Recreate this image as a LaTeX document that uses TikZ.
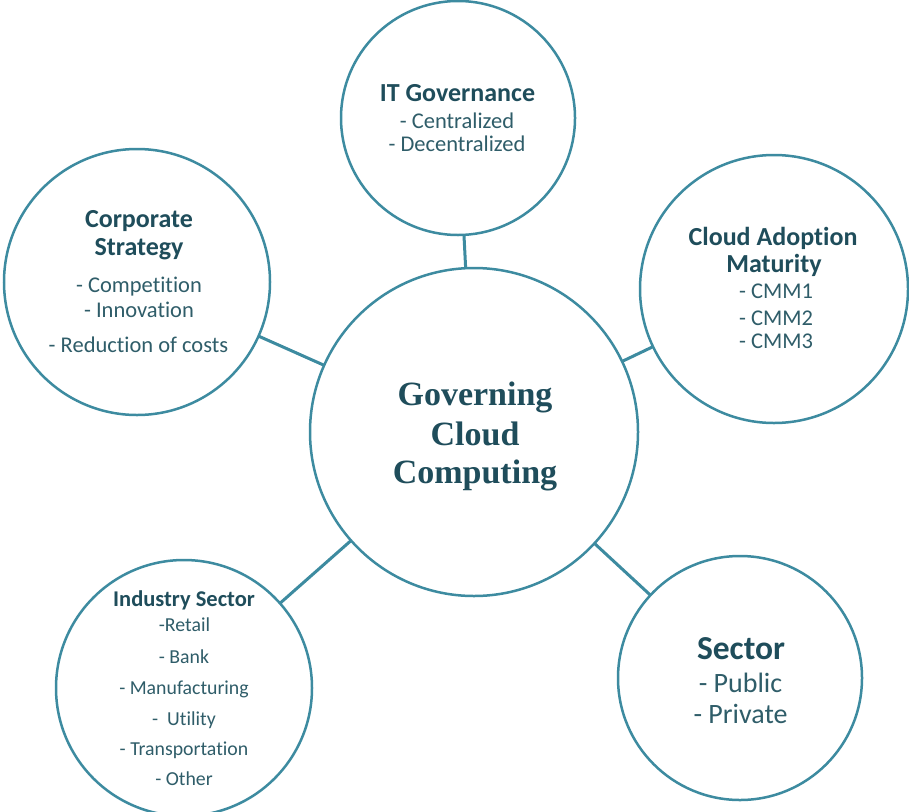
\documentclass[tikz,border=0pt]{standalone}
\usepackage{fontspec}
\setmainfont[Ligatures=NoCommon]{Carlito}
\newfontfamily\timesfont{Liberation Serif}
\definecolor{ring}{HTML}{3D8BA0}
\definecolor{headc}{HTML}{1F4D5B}
\definecolor{bodyc}{HTML}{2F5D69}
\begin{document}
\begin{tikzpicture}[x=1pt,y=-1pt,
  bubble/.style={circle,draw=ring,line width=2.5pt,fill=white,inner sep=0pt,outer sep=0pt,minimum size=#1},
  link/.style={draw=ring,line width=3pt},
  hd/.style={anchor=base,inner sep=0pt,text=headc,font=\bfseries\fontsize{26}{30}\selectfont},
  bd/.style={anchor=base,inner sep=0pt,text=bodyc,font=\fontsize{22.5}{26}\selectfont},
  hds/.style={anchor=base,inner sep=0pt,text=headc,font=\bfseries\fontsize{22.5}{26}\selectfont},
  bds/.style={anchor=base,inner sep=0pt,text=bodyc,font=\fontsize{19.8}{24}\selectfont},
  hdl/.style={anchor=base,inner sep=0pt,text=headc,font=\bfseries\fontsize{33.5}{38}\selectfont},
  bdl/.style={anchor=base,inner sep=0pt,text=bodyc,font=\fontsize{28}{32}\selectfont},
  ctr/.style={anchor=base,inner sep=0pt,text=headc,font=\timesfont\bfseries\fontsize{34}{38}\selectfont}]
\useasboundingbox (0,0) rectangle (909,811);
\fill[white] (0,0) rectangle (909,811);
% circles
\node[bubble=328pt] (c) at (474,432) {};
\node[bubble=234pt] (it) at (458,118) {};
\node[bubble=266pt] (cs) at (137,282) {};
\node[bubble=268pt] (ca) at (774,289) {};
\node[bubble=256pt] (is) at (184,688) {};
\node[bubble=244pt] (se) at (740,678) {};
% connectors
\draw[link] (c) -- (it);
\draw[link] (c) -- (cs);
\draw[link] (c) -- (ca);
\draw[link] (c) -- (is);
\draw[link] (c) -- (se);
% center text
\node[ctr] (c1) at (475,405) {Governing};
\node[ctr] (c2) at (475,445) {Cloud};
\node[ctr] (c3) at (475,483) {Computing};
% IT governance
\node[hd] (it1) at (457.5,101) {IT Governance};
\node[bd] (it2) at (457,128) {- Centralized};
\node[bd] (it3) at (457,151) {- Decentralized};
% corporate strategy
\node[hd] (cs1) at (139,227) {Corporate};
\node[hd] (cs2) at (139,255) {Strategy};
\node[bd] (cs3) at (139,292) {- Competition};
\node[bd] (cs4) at (139,317) {- Innovation};
\node[bd] (cs5) at (138.5,352) {- Reduction of costs};
% cloud adoption
\node[hd] (ca1) at (773,245) {Cloud Adoption};
\node[hd] (ca2) at (774,272) {Maturity};
\node[bd] (ca3) at (776,298) {- CMM1};
\node[bd] (ca4) at (776,325) {- CMM2};
\node[bd] (ca5) at (776,348) {- CMM3};
% industry sector
\node[hds] (is1) at (184,606) {Industry Sector};
\node[bds] (is2) at (184.5,631) {-Retail};
\node[bds] (is3) at (184,663) {- Bank};
\node[bds] (is4) at (184,694) {- Manufacturing};
\node[bds] (is5) at (184,725) {-\ \ Utility};
\node[bds] (is6) at (184,755) {- Transportation};
\node[bds] (is7) at (184,785) {- Other};
% sector
\node[hdl] (se1) at (741,659) {Sector};
\node[bdl] (se2) at (740.5,692) {- Public};
\node[bdl] (se3) at (740.5,723) {- Private};
\end{tikzpicture}
\end{document}
